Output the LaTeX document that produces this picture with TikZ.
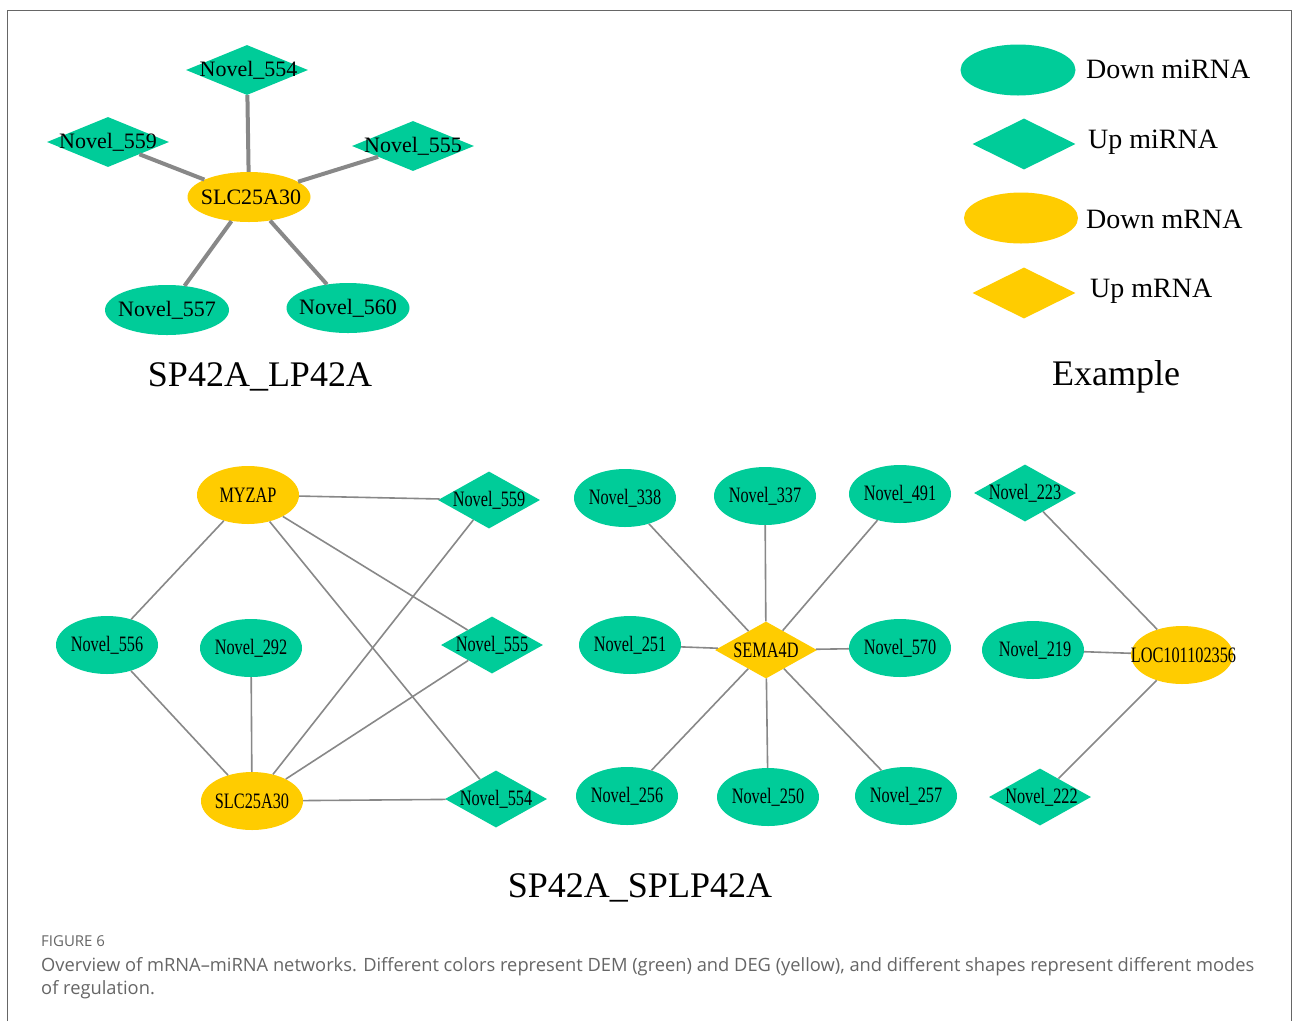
\documentclass[tikz,border=0pt]{standalone}
\usepackage{fontspec}
\setmainfont{Liberation Serif}
\newfontfamily\narrowserif[FakeStretch=0.74]{Liberation Serif}
\newfontfamily\capfont{Open Sans}
\usetikzlibrary{shapes.geometric}
\definecolor{dgreen}{HTML}{00CC99}
\definecolor{dyellow}{HTML}{FFCC00}
\definecolor{edgegray}{HTML}{888888}
\definecolor{framegray}{HTML}{666666}
\definecolor{capgray}{HTML}{666666}
\newcommand\nlab[1]{\makebox[0pt]{#1}}
\begin{document}
\begin{tikzpicture}[x=1pt,y=-1pt,
  topfont/.style={font=\fontsize{22}{24}\selectfont},
  botfont/.style={font=\narrowserif\fontsize{22}{24}\selectfont},
  topell/.style={ellipse, inner sep=0pt, draw=none, minimum width=123pt, minimum height=50pt, topfont},
  topdia/.style={diamond, inner sep=0pt, draw=none, minimum width=122pt, minimum height=50pt, topfont},
  botell/.style={ellipse, inner sep=0pt, draw=none, minimum width=102pt, minimum height=58pt, botfont},
  botdia/.style={diamond, inner sep=0pt, draw=none, minimum width=102pt, minimum height=57pt, botfont},
  grn/.style={fill=dgreen},
  ylw/.style={fill=dyellow},
  topedge/.style={draw=edgegray, line width=4pt},
  botedge/.style={draw=edgegray, line width=1.6pt},
  title/.style={font=\fontsize{36}{40}\selectfont, inner sep=0pt},
  legtext/.style={font=\fontsize{28}{30}\selectfont, anchor=west, inner sep=0pt},
  legell/.style={ellipse, inner sep=0pt, draw=none, minimum width=115pt, minimum height=51pt},
  legdia/.style={diamond, inner sep=0pt, draw=none, minimum width=103pt, minimum height=51pt},
  captext/.style={anchor=base west, inner sep=0pt, text=capgray}
]
\useasboundingbox (0,0) rectangle (1293,1021);
\fill[white] (0,0) rectangle (1293,1021);
\draw[framegray, line width=1.3pt] (7.5,1021) -- (7.5,10.5) -- (1291.5,10.5) -- (1291.5,1021);

% ---------- top network ----------
\node[topdia, grn] (t554) at (247,70) {\nlab{\hspace{3pt}Novel\_554}};
\node[topdia, grn] (t559) at (108,142) {\nlab{Novel\_559}};
\node[topdia, grn] (t555) at (413,146) {\nlab{Novel\_555}};
\node[topell, ylw] (tslc) at (249,197) {\nlab{\hspace{4pt}SLC25A30}};
\node[topell, grn, minimum width=124pt] (t557) at (167,310) {\nlab{Novel\_557}};
\node[topell, grn] (t560) at (348,308) {\nlab{Novel\_560}};
\node[title] (ttitle) at (260,377) {SP42A\_LP42A};

% ---------- legend ----------
\node[legell, grn] (lg1) at (1018,70) {};
\node[legtext] (lt1) at (1086,69) {Down miRNA};
\node[legdia, grn] (lg2) at (1024,144) {};
\node[legtext] (lt2) at (1088,142) {Up miRNA};
\node[legell, ylw, minimum width=114pt] (lg3) at (1021,218) {};
\node[legtext] (lt3) at (1086,219) {Down mRNA};
\node[legdia, ylw] (lg4) at (1024,293) {};
\node[legtext] (lt4) at (1090,291) {Up mRNA};
\node[title] (etitle) at (1116,377) {Example};

% ---------- bottom-left network ----------
\node[botell, ylw] (myzap) at (248,495) {\nlab{MYZAP}};
\node[botdia, grn] (b559) at (489,500) {\nlab{Novel\_559}};
\node[botell, grn] (b556) at (107,645) {\nlab{Novel\_556}};
\node[botell, grn] (b292) at (251,648) {\nlab{Novel\_292}};
\node[botdia, grn] (b555) at (492,645) {\nlab{Novel\_555}};
\node[botell, ylw] (bslc) at (252,801) {\nlab{SLC25A30}};
\node[botdia, grn] (b554) at (496,799) {\nlab{Novel\_554}};

% ---------- bottom-middle network ----------
\node[botell, grn] (b338) at (625,498) {\nlab{Novel\_338}};
\node[botell, grn] (b337) at (765,496) {\nlab{Novel\_337}};
\node[botell, grn] (b491) at (900,494) {\nlab{Novel\_491}};
\node[botell, grn] (b251) at (630,645) {\nlab{Novel\_251}};
\node[botdia, ylw] (sema) at (766,650) {\nlab{SEMA4D}};
\node[botell, grn] (b570) at (900,648) {\nlab{Novel\_570}};
\node[botell, grn] (b256) at (627,796) {\nlab{Novel\_256}};
\node[botell, grn] (b250) at (768,797) {\nlab{Novel\_250}};
\node[botell, grn] (b257) at (906,796) {\nlab{Novel\_257}};

% ---------- bottom-right network ----------
\node[botdia, grn] (b223) at (1025,493) {\nlab{Novel\_223}};
\node[botell, grn] (b219) at (1033,650) {\nlab{\hspace{4pt}Novel\_219}};
\node[botell, ylw] (loc) at (1182,655) {\nlab{\hspace{3pt}LOC101102356}};
\node[botdia, grn] (b222) at (1040,797) {\nlab{\hspace{3pt}Novel\_222}};

\node[title] (btitle) at (640,888) {SP42A\_SPLP42A};

% ---------- edges ----------
\draw[topedge] (tslc) -- (t554);
\draw[topedge] (tslc) -- (t559);
\draw[topedge] (tslc) -- (t555);
\draw[topedge] (tslc) -- (t557);
\draw[topedge] (tslc) -- (t560);

\draw[botedge] (myzap) -- (b559);
\draw[botedge] (myzap) -- (b556);
\draw[botedge] (myzap) -- (b555);
\draw[botedge] (myzap) -- (b554);
\draw[botedge] (b556) -- (bslc);
\draw[botedge] (b292) -- (bslc);
\draw[botedge] (bslc) -- (b559);
\draw[botedge] (bslc) -- (b555);
\draw[botedge] (bslc) -- (b554);

\foreach \n in {b338,b337,b491,b251,b570,b256,b250,b257}
  \draw[botedge] (sema) -- (\n);

\draw[botedge] (loc) -- (b223);
\draw[botedge] (loc) -- (b219);
\draw[botedge] (loc) -- (b222);

% ---------- caption ----------
\node[captext, font=\capfont\fontsize{15}{17}\selectfont] (figlab) at (41,946) {FIGURE 6};
\node[captext, font=\capfont\fontsize{18.3}{21}\selectfont] (cap1) at (41,971) {Overview of mRNA–miRNA networks. Different colors represent DEM (green) and DEG (yellow), and different shapes represent different modes};
\node[captext, font=\capfont\fontsize{18.3}{21}\selectfont] (cap2) at (41,994) {of regulation.};
\end{tikzpicture}
\end{document}
